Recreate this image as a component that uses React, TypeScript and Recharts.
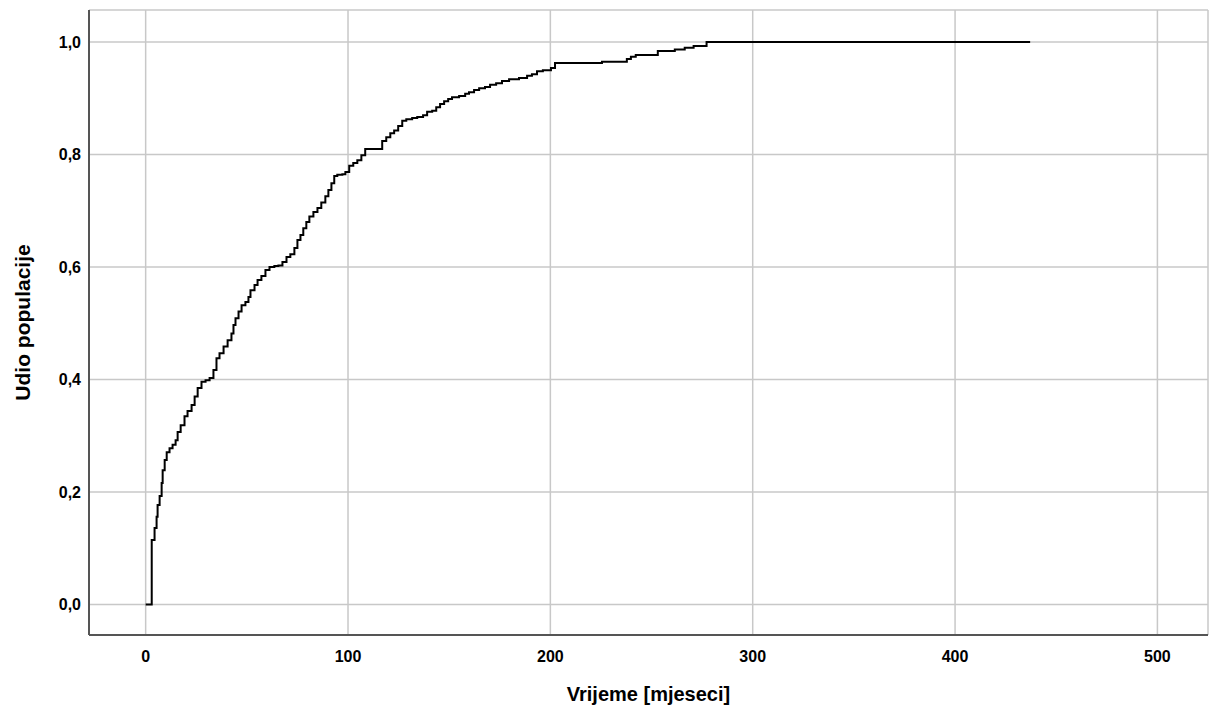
import React from "react";
import {
  LineChart,
  Line,
  XAxis,
  YAxis,
  CartesianGrid,
} from "recharts";

// time (months) at which the cumulative share steps up
const months = [
  0, 3, 4.4, 5.4, 5.9, 6.9, 7.9, 8.4, 9.4, 10.4,
  11.8, 13.3, 14.8, 15.8, 17.3, 19.2, 20.7, 22.7, 24.2, 25.7,
  27.6, 29.6, 31.6, 33.5, 35.0, 36.5, 38.5, 40.5, 42.4, 43.4,
  44.4, 45.9, 47.4, 49.3, 50.8, 51.8, 53.8, 55.3, 57.2, 59.2,
  61.2, 63.6, 65.6, 67.6, 69.6, 71.5, 73.5, 75.0, 76.5, 77.9,
  79.4, 80.9, 82.9, 84.9, 86.8, 88.8, 90.3, 91.8, 93.2, 94.7,
  97.2, 98.7, 100.6, 102.6, 104.6, 106.6, 108.5, 116.9, 118.9, 120.9,
  122.8, 124.8, 126.8, 128.8, 131.7, 134.2, 137.1, 139.1, 141.6, 143.6,
  145.5, 147.5, 149.5, 151.4, 154.9, 157.9, 159.8, 162.3, 164.8, 167.7,
  170.2, 173.2, 176.1, 179.6, 184.5, 188.5, 190.9, 193.4, 196.3, 200.3,
  202.3, 225.5, 237.8, 239.8, 242.2, 253.1, 261.5, 266.4, 270.8, 277.2,
  437.1,
];

const share = [
  0, 0.115, 0.136, 0.156, 0.177, 0.193, 0.216, 0.239, 0.257, 0.271,
  0.278, 0.284, 0.292, 0.307, 0.319, 0.335, 0.344, 0.355, 0.37, 0.385,
  0.396, 0.399, 0.403, 0.417, 0.438, 0.447, 0.459, 0.47, 0.482, 0.497,
  0.509, 0.521, 0.532, 0.538, 0.547, 0.559, 0.568, 0.577, 0.584, 0.595,
  0.6, 0.602, 0.603, 0.609, 0.618, 0.623, 0.634, 0.648, 0.657, 0.669,
  0.68, 0.69, 0.698, 0.705, 0.715, 0.726, 0.737, 0.749, 0.762, 0.764,
  0.765, 0.769, 0.78, 0.785, 0.79, 0.799, 0.81, 0.824, 0.831, 0.838,
  0.843, 0.851, 0.86, 0.863, 0.865, 0.867, 0.87, 0.876, 0.878, 0.884,
  0.89, 0.895, 0.899, 0.902, 0.904, 0.908, 0.911, 0.915, 0.918, 0.92,
  0.924, 0.927, 0.931, 0.934, 0.936, 0.94, 0.943, 0.948, 0.95, 0.954,
  0.963, 0.965, 0.97, 0.974, 0.977, 0.984, 0.987, 0.99, 0.993, 1.0,
  1.0,
];

const xTicks = [0, 100, 200, 300, 400, 500];
const yTicks = [0, 0.2, 0.4, 0.6, 0.8, 1.0];

const data = months.map((m, i) => ({ month: m, share: share[i] }));

const font = "'Liberation Sans', Arial, sans-serif";
const tickStyle = { fontSize: 16, fontWeight: 700, fill: "#000", fontFamily: font };

export default function App() {
  return (
    <div style={{ position: "absolute", left: 0, top: 0 }}>
      <LineChart
        width={1216}
        height={715}
        data={data}
        margin={{ top: 10, right: 8, bottom: 0, left: 0 }}
      >
        <CartesianGrid stroke="#c8c8c8" strokeWidth={1.5} />
        <XAxis
          dataKey="month"
          type="number"
          domain={[-28, 525]}
          ticks={xTicks}
          height={80}
          tickLine={false}
          tickMargin={10}
          axisLine={{ stroke: "#555", strokeWidth: 2 }}
          tick={tickStyle}
          label={{
            value: "Vrijeme [mjeseci]",
            position: "insideBottom",
            offset: 14,
            style: { fontSize: 20, fontWeight: 700, fill: "#000", fontFamily: font },
          }}
        />
        <YAxis
          type="number"
          domain={[-0.054, 1.057]}
          ticks={yTicks}
          width={89}
          tickLine={false}
          axisLine={{ stroke: "#555", strokeWidth: 2 }}
          tick={tickStyle}
          tickFormatter={(v: number) => v.toFixed(1).replace(".", ",")}
          label={{
            value: "Udio populacije",
            angle: -90,
            position: "center",
            dx: -22,
            style: { fontSize: 21, fontWeight: 700, fill: "#000", fontFamily: font },
          }}
        />
        <Line
          type="stepAfter"
          dataKey="share"
          stroke="#000"
          strokeWidth={2}
          dot={false}
          isAnimationActive={false}
        />
      </LineChart>
    </div>
  );
}
